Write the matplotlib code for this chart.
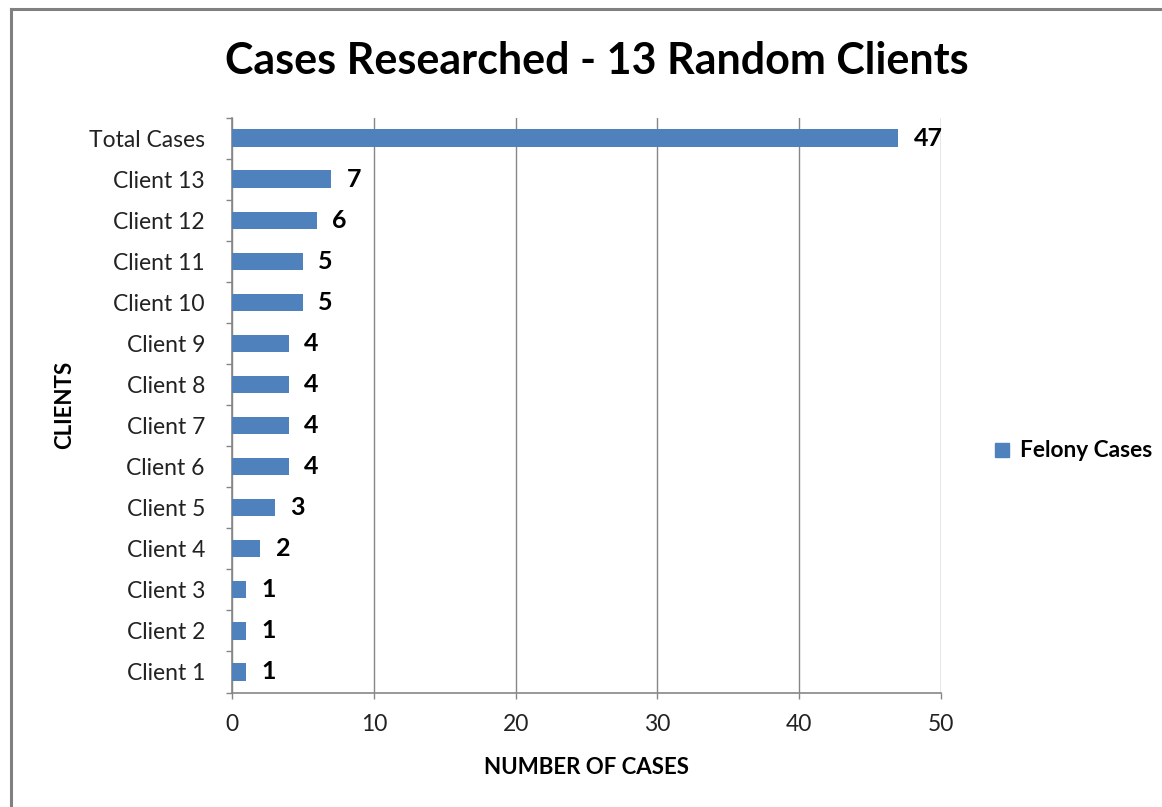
import matplotlib
matplotlib.use("Agg")
import matplotlib.pyplot as plt
from matplotlib.lines import Line2D

plt.rcParams['font.family'] = ['Lato', 'DejaVu Sans']

categories = ["Client 1", "Client 2", "Client 3", "Client 4", "Client 5", "Client 6",
              "Client 7", "Client 8", "Client 9", "Client 10", "Client 11", "Client 12",
              "Client 13", "Total Cases"]
felony_cases = [1, 1, 1, 2, 3, 4, 4, 4, 4, 5, 5, 6, 7, 47]
x_ticks = [0, 10, 20, 30, 40, 50]

W, H = 1162, 807
fig = plt.figure(figsize=(W / 100, H / 100), dpi=100)
fig.patch.set_facecolor("white")

L, R, T, B = 232, 941, 117.5, 692.5
ax = fig.add_axes([L / W, 1 - B / H, (R - L) / W, (B - T) / H])

bar_color = "#4F81BD"
grey = "#868686"
pos = list(range(len(categories)))
ax.barh(pos, felony_cases, height=0.42, color=bar_color, zorder=3,
        label="Felony Cases")

for p, v in zip(pos, felony_cases):
    ax.annotate(str(v), xy=(v, p), xytext=(11, 0), textcoords="offset points",
                ha="left", va="center", fontsize=18, fontweight="bold", color="black")

ax.set_xlim(0, 50)
ax.set_ylim(-0.5, len(categories) - 0.5)
ax.set_xticks(x_ticks)
ax.set_xticklabels([str(t) for t in x_ticks], fontsize=16.5, color="#222222")
ax.set_yticks(pos)
ax.set_yticklabels(categories, fontsize=16.5, color="#222222")
ax.set_yticks([i - 0.5 for i in range(len(categories) + 1)], minor=True)
ax.tick_params(axis="y", which="major", length=0, pad=19.5)
ax.tick_params(axis="y", which="minor", length=4.5, width=1, color=grey, direction="out")
ax.tick_params(axis="x", which="major", length=4.5, width=1, color=grey, direction="out", pad=11)

ax.grid(axis="x", color=grey, linewidth=1, zorder=0)
ax.set_axisbelow(True)
for s in ["top", "right"]:
    ax.spines[s].set_visible(False)
for s in ["left", "bottom"]:
    ax.spines[s].set_color(grey)
    ax.spines[s].set_linewidth(1.2)

fig.text(597 / W, 1 - 61 / H, "Cases Researched - 13 Random Clients", ha="center",
         va="center", fontsize=31, fontweight="bold")
fig.text(587 / W, 1 - 767 / H, "NUMBER OF CASES", ha="center", va="center",
         fontsize=16, fontweight="bold")
fig.text(65 / W, 1 - 405 / H, "CLIENTS", ha="center", va="center", rotation=90,
         fontsize=16, fontweight="bold")

handle = Line2D([], [], marker="s", linestyle="none", markersize=10,
                markerfacecolor=bar_color, markeredgecolor=bar_color)
fig.legend([handle], ["Felony Cases"], loc="center left",
           bbox_to_anchor=(985 / W, 1 - 451 / H), frameon=False,
           prop={"size": 16.3, "weight": "bold"}, handlelength=0.7, handletextpad=0.45,
           borderaxespad=0)

fig.add_artist(Line2D([11 / W, 11 / W], [0, 1 - 9 / H], color="#808080", linewidth=2.2,
                      transform=fig.transFigure))
fig.add_artist(Line2D([11 / W, 1], [1 - 9 / H, 1 - 9 / H], color="#808080", linewidth=2.2,
                      transform=fig.transFigure))

fig.savefig("out.png", dpi=100)
